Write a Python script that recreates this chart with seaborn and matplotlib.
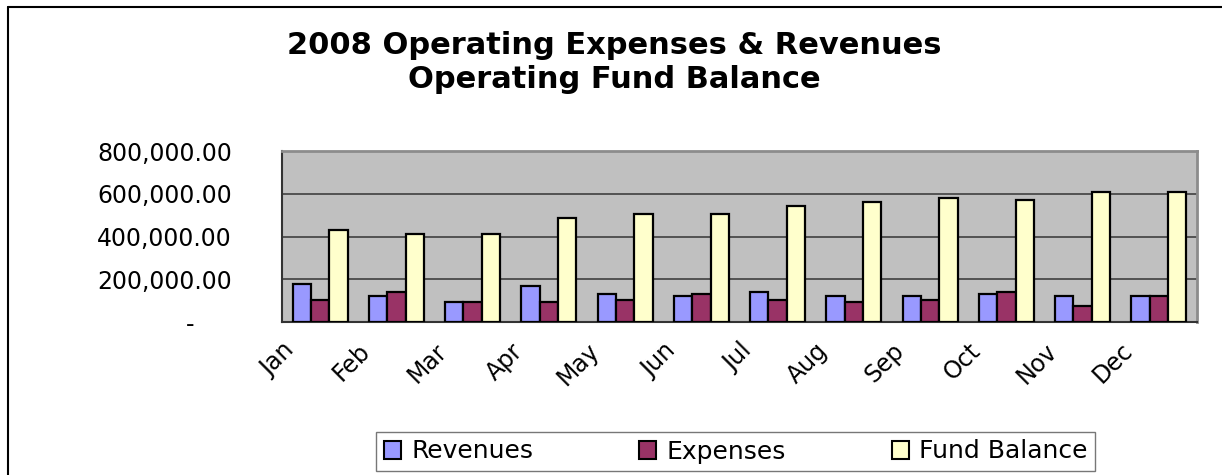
import numpy as np
import pandas as pd
import seaborn as sns
import matplotlib.pyplot as plt
import matplotlib.patches as mpatches
from matplotlib.lines import Line2D

# chart values
months = ['Jan', 'Feb', 'Mar', 'Apr', 'May', 'Jun',
          'Jul', 'Aug', 'Sep', 'Oct', 'Nov', 'Dec']
revenues = [176000, 122000, 92000, 167000, 129000, 122000,
            139000, 122000, 122000, 129000, 122000, 122000]
expenses = [103000, 141000, 92000, 92000, 103000, 129000,
            103000, 92000, 103000, 139000, 76000, 122000]
fund_balance = [429000, 411000, 411000, 486000, 506000, 506000,
                542000, 561000, 579000, 570000, 607000, 607000]
series_names = ['Revenues', 'Expenses', 'Fund Balance']
y_ticks = [0, 200000, 400000, 600000, 800000]
y_tick_labels = ['-     ', '200,000.00', '400,000.00', '600,000.00', '800,000.00']
title_lines = ['2008 Operating Expenses & Revenues', 'Operating Fund Balance']

colors = ['#9999FF', '#993366', '#FFFFCC']

df = pd.DataFrame({'month': months * 3,
                   'value': revenues + expenses + fund_balance,
                   'series': np.repeat(series_names, len(months))})

sns.set_style('white')
plt.rcParams['font.family'] = ['DejaVu Sans']
plt.rcParams['text.color'] = 'black'

fig = plt.figure(figsize=(12.22, 4.75), dpi=100)
ax = fig.add_axes([282 / 1222, 1 - 322 / 475, (1197 - 282) / 1222, (322 - 151) / 475])
ax.set_facecolor('#C0C0C0')

sns.barplot(data=df, x='month', y='value', hue='series', palette=colors,
            width=0.72, edgecolor='black', linewidth=1.6, saturation=1,
            legend=False, ax=ax, zorder=3)

ax.set_ylim(0, 800000)
ax.set_xlim(-0.5, len(months) - 0.5)
ax.set_yticks(y_ticks)
ax.set_yticklabels(y_tick_labels, fontsize=17)
ax.yaxis.grid(True, color='#4a4a4a', linewidth=1.3, zorder=0)
ax.set_axisbelow(True)

# category labels sit at the left boundary of each group, like the original
bounds = np.arange(-0.5, len(months), 1.0)
ax.set_xticks(bounds)
ax.set_xticklabels(months + [''], fontsize=17, rotation=45,
                   ha='right', va='top', rotation_mode='anchor')
ax.tick_params(axis='y', direction='out', length=10, width=1.2, color='#333333',
               pad=26, labelcolor='black')
ax.tick_params(axis='x', direction='out', length=6, width=1.2, color='#333333',
               pad=6, labelcolor='black')
ax.set_xlabel('')
ax.set_ylabel('')

for side in ['top', 'right']:
    ax.spines[side].set_color('#8c8c8c')
    ax.spines[side].set_linewidth(2)
for side in ['left', 'bottom']:
    ax.spines[side].set_color('#333333')
    ax.spines[side].set_linewidth(1.5)

fig.text(0.503, 1 - 45 / 475, title_lines[0], ha='center', va='center',
         fontsize=22, fontweight='bold', color='black')
fig.text(0.503, 1 - 80 / 475, title_lines[1], ha='center', va='center',
         fontsize=22, fontweight='bold', color='black')

handles = [mpatches.Patch(facecolor=c, edgecolor='black', linewidth=1.5, label=n)
           for c, n in zip(colors, series_names)]
leg = fig.legend(handles=handles, loc='lower left', ncol=3, mode='expand',
                 bbox_to_anchor=(376 / 1222, 4 / 475, (1095 - 376) / 1222, 44 / 475),
                 fontsize=18, frameon=True, fancybox=False, handlelength=0.7,
                 handleheight=0.7, handletextpad=0.4, borderaxespad=0,
                 borderpad=0.3)
leg.get_frame().set_edgecolor('#555555')
leg.get_frame().set_linewidth(1.0)

# outer chart border (only top and left edges fall inside the picture)
fig.add_artist(Line2D([8 / 1222, 8 / 1222], [0, 1 - 7 / 475], transform=fig.transFigure,
                      color='black', linewidth=1.5))
fig.add_artist(Line2D([8 / 1222, 1], [1 - 7 / 475, 1 - 7 / 475], transform=fig.transFigure,
                      color='black', linewidth=1.5))

fig.savefig('out.png', dpi=100)
